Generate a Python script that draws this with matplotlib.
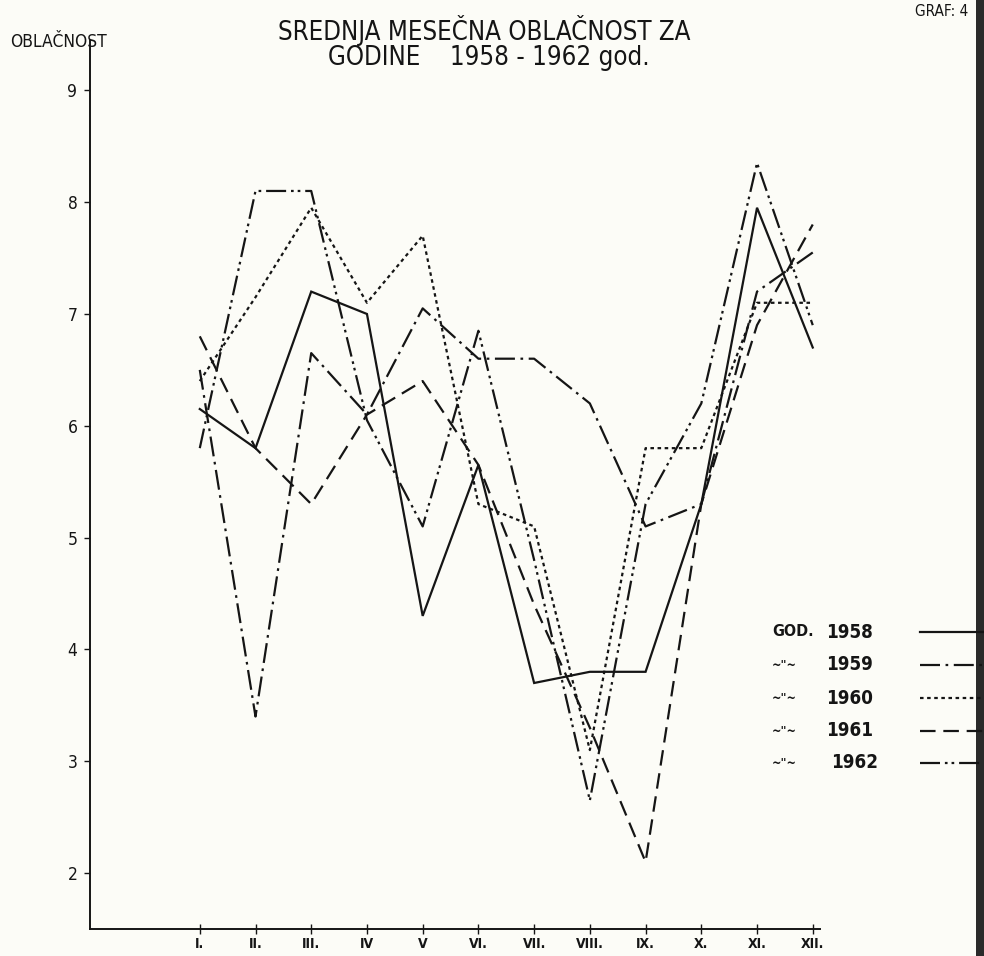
import matplotlib
matplotlib.use("Agg")
import matplotlib.pyplot as plt
from matplotlib import font_manager
from matplotlib.lines import Line2D
from matplotlib.patches import Rectangle

# ---- data -------------------------------------------------------------
months = ["I.", "II.", "III.", "IV", "V", "VI.", "VII.", "VIII.", "IX.", "X.", "XI.", "XII."]
y1958 = [6.15, 5.8, 7.2, 7.0, 4.3, 5.65, 3.7, 3.8, 3.8, 5.3, 7.95, 6.7]
y1959 = [6.5, 3.4, 6.65, 6.1, 7.05, 6.6, 6.6, 6.2, 5.1, 5.3, 7.2, 7.55]
y1960 = [6.4, 7.15, 7.95, 7.1, 7.7, 5.3, 5.1, 3.1, 5.8, 5.8, 7.1, 7.1]
y1961 = [6.8, 5.8, 5.3, 6.1, 6.4, 5.65, 4.4, 3.3, 2.1, 5.3, 6.9, 7.8]
y1962 = [5.8, 8.1, 8.1, 6.05, 5.1, 6.85, 4.8, 2.65, 5.3, 6.2, 8.35, 6.9]
years = ["1958", "1959", "1960", "1961", "1962"]
prefixes = ["GOD.", "~\"~", "~\"~", "~\"~", "~\"~"]
yticks = [2, 3, 4, 5, 6, 7, 8, 9]

series = [y1958, y1959, y1960, y1961, y1962]
styles = [
    "-",
    (0, (9, 2.5, 1.2, 2.5)),
    (0, (1.6, 1.6)),
    (0, (7, 3.5)),
    (0, (9, 2.2, 1.2, 1.8, 1.2, 2.2)),
]

names = {f.name for f in font_manager.fontManager.ttflist}
narrow = "Liberation Sans Narrow" if "Liberation Sans Narrow" in names else "DejaVu Sans"
FAM = [narrow, "DejaVu Sans"]
STR = "condensed"

ink = "#151515"
bg = "#fcfcf7"

fig = plt.figure(figsize=(9.84, 9.56), dpi=100, facecolor=bg)
ax = fig.add_axes([90 / 984, 1 - 929 / 956, (820 - 90) / 984, (929 - 40) / 956])
ax.set_facecolor(bg)

x = list(range(len(months)))
for ys, ls in zip(series, styles):
    ax.plot(x, ys, color=ink, lw=1.6, linestyle=ls, solid_joinstyle="miter",
            dash_capstyle="butt")

ax.set_xlim(-1.97, 11.13)
ax.set_ylim(1.5, 9.45)
for s in ["top", "right"]:
    ax.spines[s].set_visible(False)
for s in ["left", "bottom"]:
    ax.spines[s].set_color(ink)
    ax.spines[s].set_linewidth(1.4)

ax.set_yticks(yticks)
ax.set_yticklabels([str(v) for v in yticks], fontsize=12.5, family=FAM,
                   fontstretch=STR, color=ink)
ax.tick_params(axis="y", direction="out", length=4, width=1, pad=5, colors=ink)
ax.set_xticks(x)
ax.set_xticklabels(months, fontsize=10, family=FAM, fontstretch=STR, color=ink,
                   fontweight="bold")
ax.tick_params(axis="x", direction="inout", length=7, width=1, pad=2, colors=ink)

# titles and labels
fig.text(0.492, 1 - 30 / 956, "SREDNJA MESEČNA OBLAČNOST ZA", ha="center", va="center",
         fontsize=18.5, family=FAM, fontstretch=STR, color=ink)
fig.text(0.497, 1 - 58 / 956, "GODINE    1958 - 1962 god.", ha="center", va="center",
         fontsize=18.5, family=FAM, fontstretch=STR, color=ink)
fig.text(10 / 984, 1 - 42 / 956, "OBLAČNOST", ha="left", va="center",
         fontsize=12.5, family=FAM, fontstretch=STR, color=ink)
fig.text(968 / 984, 1 - 12 / 956, "GRAF: 4", ha="right", va="center",
         fontsize=11, family=FAM, fontstretch=STR, color=ink)

# legend
row_y = [632, 665, 698, 731, 763]
for i, (pre, yr, ls) in enumerate(zip(prefixes, years, styles)):
    yy = 1 - row_y[i] / 956
    fig.text(772 / 984, yy, pre, ha="left", va="center",
             fontsize=11.5 if i == 0 else 9, family=FAM, fontstretch=STR,
             color=ink, fontweight="bold")
    fig.text((826 + (5 if i == 4 else 0)) / 984, yy, yr, ha="left", va="center",
             fontsize=13.5, family=FAM, fontstretch=STR, color=ink, fontweight="bold")
    fig.add_artist(Line2D([920 / 984, 990 / 984], [yy, yy], color=ink, lw=1.6,
                          linestyle=ls, transform=fig.transFigure))

# scan edge
fig.add_artist(Rectangle((976 / 984, 0), 10 / 984, 1, transform=fig.transFigure,
                         facecolor="#2a2a2a", edgecolor="none"))

fig.savefig("out.png", dpi=100, facecolor=bg)
